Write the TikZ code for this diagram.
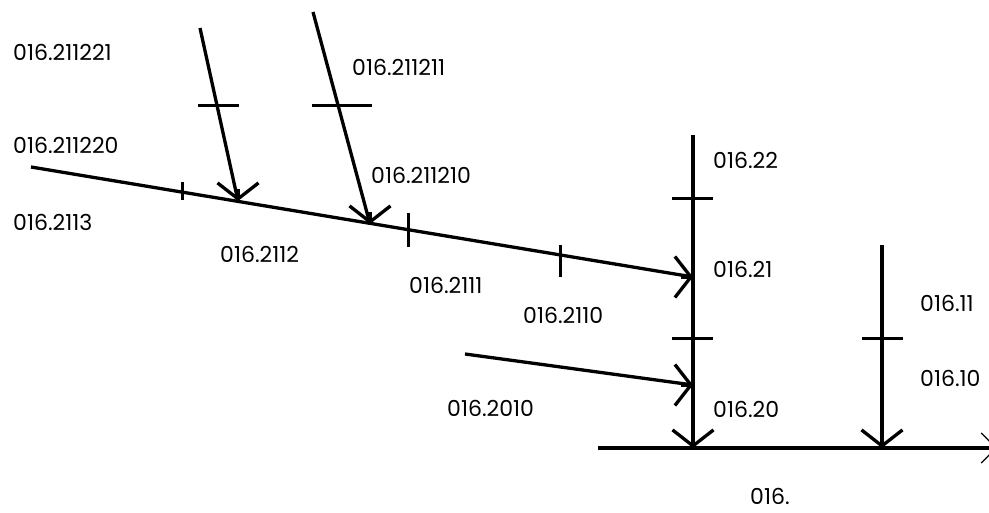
\documentclass[tikz,border=0pt]{standalone}
\usepackage{fontspec}
\setmainfont{Poppins}
\usetikzlibrary{arrows.meta}
\begin{document}
\begin{tikzpicture}
[x=1pt,y=-1pt,
  linedecorate/.style={-,line width=3.3pt},%
  arrowdecorate/.style={-{Straight Barb[length=16pt,width=41pt]},line width=3.3pt},%
  endarrowdecorate/.style={-{Straight Barb[length=15pt,width=30pt,line width=1.2pt]},line width=3.3pt},%
  tickdecorate/.style={-,line width=3pt},%
  labeldecorate/.style={anchor=west,inner sep=0pt,font=\fontsize{22}{26}\selectfont}]
\useasboundingbox (0,0) rectangle (989,513);
%% points of the lines
\foreach \pointname/\x/\y in {s/31/167, j21/693/277, a1/200/28, b1/238/201,
  a2/313/12, b2/370/224, top/693/135, j20/693/448, e1/465/354, e2/693/385,
  h1/598/448, h2/997/448, w1/882/245, w2/882/448,
  t21/681/277, tb1/238/189, tb2/370/212, t20/693/436, te2/681/385,
  tw2/882/436} {
  \coordinate (\pointname) at (\x,\y);
}
%% labels
\foreach \labelname/\x/\y/\labeltext in {c211221/13/52/016.211221,
  c211211/352/67/016.211211, c211220/13/145/016.211220,
  c211210/371/175/016.211210, c2113/13/222/016.2113, c2112/220/254/016.2112,
  c2111/409/285/016.2111, c2110/523/315/016.2110, c22/713/160/016.22,
  c21/713/269/016.21, c20/713/409/016.20, c2010/447/408/016.2010,
  c11/920/303/016.11, c10/920/378/016.10, c0/750/496/016.} {
  \node (\labelname) at (\x,\y) [labeldecorate] {\labeltext};
}
%% lines, with the heads set square to the axes
\path
\foreach \startnode/\endnode/\tipnode in {s/j21/t21, a1/b1/tb1, a2/b2/tb2,
  top/j20/t20, e1/e2/te2, w1/w2/tw2} {
  (\startnode) edge[linedecorate] (\endnode)
  (\tipnode) edge[arrowdecorate] (\endnode)
};
\draw[endarrowdecorate] (h1) -- (h2);
%% ticks
\foreach \xa/\xb/\y in {198/239/106, 312/372/106, 672/713/199, 672/713/339,
  862/903/339} {
  \draw[tickdecorate] (\xa,\y) -- (\xb,\y);
}
\foreach \x/\ya/\yb in {182/182/200, 408/213/247, 560/245/277} {
  \draw[tickdecorate] (\x,\ya) -- (\x,\yb);
}
\end{tikzpicture}
\end{document}
